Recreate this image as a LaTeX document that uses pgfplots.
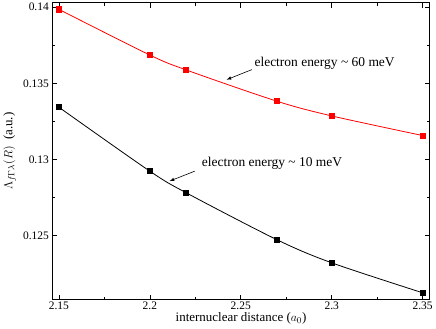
\documentclass[border=0pt]{standalone}
\usepackage{fontspec}
\setmainfont{Liberation Serif}
\usepackage{pgfplots}
\pgfplotsset{compat=1.18}
\begin{document}
\begin{tikzpicture}[x=1bp,y=1bp]
\begin{axis}[
  scale only axis,
  width=377bp, height=297bp,
  xmin=2.1464, xmax=2.3539,
  ymin=0.12078, ymax=0.14031,
  xtick={2.15,2.2,2.25,2.3,2.35},
  ytick={0.125,0.13,0.135,0.14},
  minor x tick num=1, minor y tick num=1,
  tick align=inside,
  major tick length=5bp, minor tick length=3bp,
  tick style={black, line width=0.6pt},
  axis line style={line width=0.7pt},
  /pgf/number format/assume math mode=true,
  /pgf/number format/fixed,
  /pgf/number format/precision=3,
  ticklabel style={font=\fontsize{11.5}{13}\selectfont},
  xticklabel style={yshift=1bp},
  xlabel={internuclear distance ($a_0$)},
  ylabel={$\Lambda_{f\Gamma\lambda}(R)$\ \ (a.u.)},
  label style={font=\fontsize{13}{15}\selectfont},
  xlabel style={yshift=4bp},
  ylabel style={yshift=0bp},
  clip=false,
]
\addplot[red, line width=0.8pt, smooth, mark=square*, mark size=2.6pt, mark options={solid}]
coordinates {(2.15,0.13986) (2.2,0.13686) (2.22,0.13588) (2.27,0.13382) (2.3,0.13286) (2.35,0.13157)};
\addplot[black, line width=0.8pt, smooth, mark=square*, mark size=2.6pt, mark options={solid}]
coordinates {(2.15,0.13343) (2.2,0.12923) (2.22,0.12781) (2.27,0.12472) (2.3,0.12321) (2.35,0.12124)};
\node[font=\fontsize{13.5}{15}\selectfont] at (axis cs:2.2961,0.13631) {electron energy \textasciitilde{} 60 meV};
\draw[-latex, line width=0.6pt] (axis cs:2.2561,0.13590) -- (axis cs:2.2422,0.13524);
\node[font=\fontsize{13.5}{15}\selectfont] at (axis cs:2.2672,0.12973) {electron energy \textasciitilde{} 10 meV};
\draw[-latex, line width=0.6pt] (axis cs:2.2247,0.12923) -- (axis cs:2.2109,0.12858);
\end{axis}
\end{tikzpicture}
\end{document}
